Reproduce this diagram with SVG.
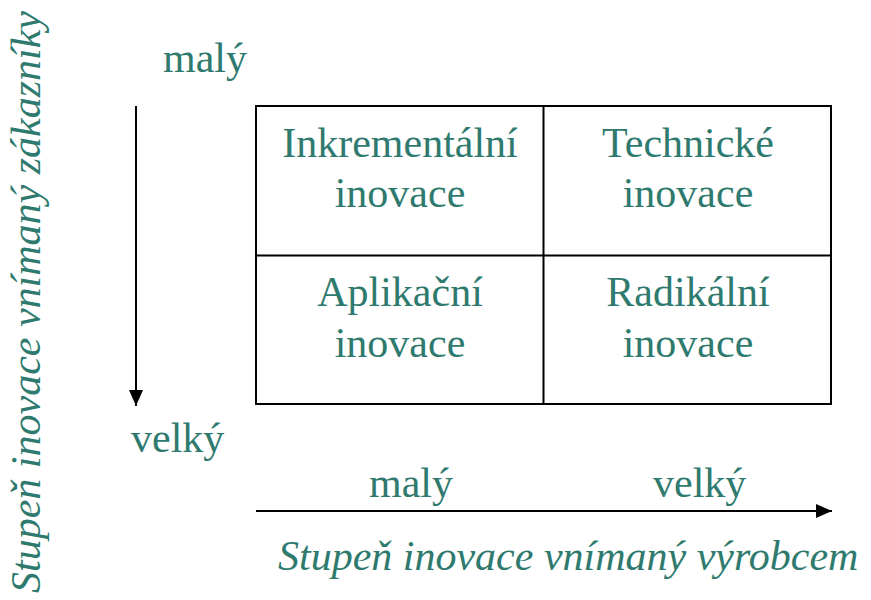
<svg xmlns="http://www.w3.org/2000/svg" width="871" height="600" viewBox="0 0 871 600">
  <defs>
    <marker id="ah" markerWidth="16" markerHeight="14" refX="16" refY="7" orient="auto" markerUnits="userSpaceOnUse">
      <path d="M0,0 L16,7 L0,14 Z" fill="#000"/>
    </marker>
  </defs>
  <rect width="871" height="600" fill="#fff"/>

  <g id="grid" stroke="#000" stroke-width="2" fill="none">
    <rect x="256" y="106" width="575" height="298"/>
    <line x1="543.5" y1="106" x2="543.5" y2="404"/>
    <line x1="256" y1="255.5" x2="831" y2="255.5"/>
  </g>

  <g font-family="Liberation Serif" font-size="42" fill="#2f7a6e">
  <g id="cell-inkrementalni" text-anchor="middle">
    <text x="400" y="157">Inkrementální</text>
    <text x="400" y="207">inovace</text>
  </g>
  <g id="cell-technicke" text-anchor="middle">
    <text x="688" y="157">Technické</text>
    <text x="688" y="207">inovace</text>
  </g>
  <g id="cell-aplikacni" text-anchor="middle">
    <text x="400" y="306">Aplikační</text>
    <text x="400" y="357">inovace</text>
  </g>
  <g id="cell-radikalni" text-anchor="middle">
    <text x="688" y="306">Radikální</text>
    <text x="688" y="357">inovace</text>
  </g>
  <g id="axis-labels">
    <text x="163" y="72">malý</text>
    <text x="131" y="452">velký</text>
    <text x="369" y="497">malý</text>
    <text x="653" y="497">velký</text>
    <text font-style="italic" x="278" y="570">Stupeň inovace vnímaný výrobcem</text>
    <text font-style="italic" text-anchor="middle" transform="translate(40,302) rotate(-90)">Stupeň inovace vnímaný zákazníky</text>
  </g>
  </g>

  <g id="connectors" stroke="#000" stroke-width="2" fill="none">
    <line x1="136" y1="106" x2="136" y2="406" marker-end="url(#ah)"/>
    <line x1="256" y1="511" x2="832" y2="511" marker-end="url(#ah)"/>
  </g>
</svg>
